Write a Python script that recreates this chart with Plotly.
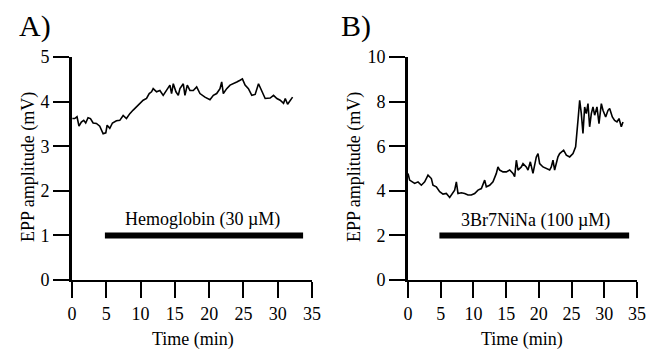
import plotly.graph_objects as go

# Panel A data (Hemoglobin)
time_a = [0.05, 0.39, 0.73, 1.02, 1.36, 1.71, 2.0, 2.34, 2.69, 3.08, 3.56, 4.05, 4.54, 4.93, 5.12,
          5.51, 5.9, 6.48, 6.97, 7.46, 7.94, 8.43, 8.92, 9.41, 9.9, 10.38, 10.87, 11.26, 11.6, 11.84,
          12.33, 12.82, 13.3, 13.79, 14.28, 14.52, 14.77, 15.16, 15.5, 15.74, 16.23, 16.47, 16.81,
          17.2, 17.69, 18.18, 18.66, 19.39, 20.12, 20.61, 21.1, 21.58, 21.83, 22.07, 22.56, 23.05,
          23.54, 24.03, 24.51, 24.85, 25.24, 25.73, 26.22, 26.71, 27.2, 27.68, 28.17, 28.9, 29.39,
          29.88, 30.36, 30.85, 31.1, 31.44, 31.83, 32.17]
epp_a = [3.62, 3.62, 3.66, 3.45, 3.54, 3.58, 3.52, 3.64, 3.62, 3.52, 3.51, 3.45, 3.28, 3.30, 3.47,
         3.40, 3.52, 3.57, 3.58, 3.69, 3.62, 3.73, 3.81, 3.88, 3.96, 4.03, 4.07, 4.18, 4.22, 4.29,
         4.22, 4.25, 4.14, 4.25, 4.37, 4.18, 4.40, 4.22, 4.14, 4.29, 4.40, 4.14, 4.37,
         4.25, 4.25, 4.33, 4.18, 4.10, 4.04, 4.14, 4.18, 4.29, 4.44, 4.18, 4.29, 4.37,
         4.40, 4.44, 4.48, 4.51, 4.37, 4.29, 4.14, 4.16, 4.40, 4.25, 4.07, 4.08, 4.14,
         4.07, 4.03, 3.96, 4.07, 3.94, 4.04, 4.10]

# Panel B data (3Br7NiNa)
time_b = [0.0, 0.25, 0.66, 1.02, 1.53, 2.04, 2.55, 3.06, 3.57, 3.82, 4.33, 4.84, 5.35, 5.86, 6.37,
          6.78, 7.13, 7.39, 7.64, 8.15, 8.66, 9.17, 9.68, 10.19, 10.7, 11.21, 11.72, 11.97, 12.48,
          12.99, 13.5, 13.75, 14.01, 14.52, 15.03, 15.54, 16.05, 16.3, 16.56, 16.81, 17.32, 17.58,
          18.08, 18.34, 18.7, 19.1, 19.61, 19.87, 20.12, 20.63, 21.14, 21.65, 21.9, 22.16, 22.41,
          22.92, 23.18, 23.43, 23.79, 24.2, 24.71, 25.22, 25.62, 25.98, 26.24, 26.49, 26.74, 27.0,
          27.25, 27.51, 27.76, 28.02, 28.27, 28.53, 28.88, 29.19, 29.55, 29.8, 30.21, 30.57, 30.82,
          31.23, 31.58, 31.94, 32.25, 32.6, 32.86]
epp_b = [4.78, 4.48, 4.40, 4.33, 4.40, 4.25, 4.40, 4.70, 4.55, 4.25, 4.18, 3.96, 3.85, 3.88, 3.70,
         3.88, 4.03, 4.40, 3.88, 3.91, 3.88, 3.81, 3.81, 3.88, 4.03, 4.10, 4.48, 4.18, 4.25,
         4.40, 4.78, 5.07, 4.93, 4.85, 4.85, 4.93, 4.78, 4.63, 5.37, 4.93, 5.07, 5.22,
         5.07, 4.93, 5.30, 4.78, 5.52, 5.67, 5.22, 5.07, 5.00, 4.93, 5.07, 5.37, 4.93,
         5.52, 5.67, 5.75, 5.82, 5.60, 5.52, 5.67, 5.97, 7.16, 8.06, 7.46, 6.57, 7.76,
         7.46, 7.91, 6.87, 7.46, 7.76, 7.39, 7.76, 7.01, 7.91, 7.61, 7.31, 7.61, 7.69,
         7.31, 7.16, 7.09, 7.24, 6.87, 7.09]

# Drug application bars
bar_a_time = [4.8, 33.7]
bar_a_level = [1, 1]
bar_b_time = [4.8, 33.8]
bar_b_level = [2, 2]

label_a = "Hemoglobin (30 µM)"
label_b = "3Br7NiNa (100 µM)"
x_ticks = [0, 5, 10, 15, 20, 25, 30, 35]
y_ticks_a = [0, 1, 2, 3, 4, 5]
y_ticks_b = [0, 2, 4, 6, 8, 10]

FONT = "Liberation Serif, Times New Roman, serif"
# The page body has an 8 px margin, so the figure is sized to fit the window after it.
OFF = 8
W, H = 656 - OFF, 349 - OFF

def px(v):
    return (v - OFF) / W

def py(v):
    return 1 - (v - OFF) / H

fig = go.Figure()
fig.add_trace(go.Scatter(x=time_a, y=epp_a, mode="lines", line=dict(color="black", width=1.6),
                         xaxis="x", yaxis="y", showlegend=False))
fig.add_trace(go.Scatter(x=bar_a_time, y=bar_a_level, mode="lines", line=dict(color="black", width=6),
                         xaxis="x", yaxis="y", showlegend=False))
fig.add_trace(go.Scatter(x=time_b, y=epp_b, mode="lines", line=dict(color="black", width=1.6),
                         xaxis="x2", yaxis="y2", showlegend=False))
fig.add_trace(go.Scatter(x=bar_b_time, y=bar_b_level, mode="lines", line=dict(color="black", width=6),
                         xaxis="x2", yaxis="y2", showlegend=False))

def xax(domain, anchor):
    return dict(domain=domain, anchor=anchor, range=[0, 35], tickvals=x_ticks, automargin=False,
                showline=True, linewidth=2, linecolor="black", ticks="outside", ticklen=16,
                tickwidth=2, tickcolor="black", showgrid=False, zeroline=False,
                tickfont=dict(family=FONT, size=18, color="black"))

def yax(domain, anchor, rng, vals):
    return dict(domain=domain, anchor=anchor, range=rng, tickvals=vals, automargin=False,
                showline=True, linewidth=3, linecolor="black", ticks="outside", ticklen=16,
                tickwidth=2, tickcolor="black", showgrid=False, zeroline=False,
                tickfont=dict(family=FONT, size=18, color="black"))

ydom = [py(280), py(57)]
fig.update_layout(
    template="none",
    width=W, height=H, margin=dict(l=0, r=0, t=0, b=0, pad=0),
    paper_bgcolor="white", plot_bgcolor="white",
    xaxis=xax([px(72), px(312)], "y"),
    yaxis=yax(ydom, "x", [0, 5], y_ticks_a),
    xaxis2=xax([px(408), px(637)], "y2"),
    yaxis2=yax(ydom, "x2", [0, 10], y_ticks_b),
)

ann = []
ann.append(dict(text="A)", x=px(17), y=py(26), xref="paper", yref="paper", xanchor="left",
                yanchor="middle", showarrow=False, font=dict(family=FONT, size=30, color="black")))
ann.append(dict(text="B)", x=px(339), y=py(26), xref="paper", yref="paper", xanchor="left",
                yanchor="middle", showarrow=False, font=dict(family=FONT, size=30, color="black")))
for xc in (28, 354):
    ann.append(dict(text="EPP amplitude (mV)", x=px(xc), y=py(167), xref="paper", yref="paper",
                    textangle=-90, xanchor="center", yanchor="middle", showarrow=False,
                    font=dict(family=FONT, size=18, color="black")))
for xc in (193, 522):
    ann.append(dict(text="Time (min)", x=px(xc), y=py(339), xref="paper", yref="paper",
                    xanchor="center", yanchor="middle", showarrow=False,
                    font=dict(family=FONT, size=18, color="black")))
ann.append(dict(text=label_a, x=19.1, y=1.35, xref="x", yref="y", xanchor="center", yanchor="middle",
                showarrow=False, font=dict(family=FONT, size=18, color="black")))
ann.append(dict(text=label_b, x=19.5, y=2.69, xref="x2", yref="y2", xanchor="center", yanchor="middle",
                showarrow=False, font=dict(family=FONT, size=18, color="black")))
fig.update_layout(annotations=ann)

fig.write_html("out.html")
